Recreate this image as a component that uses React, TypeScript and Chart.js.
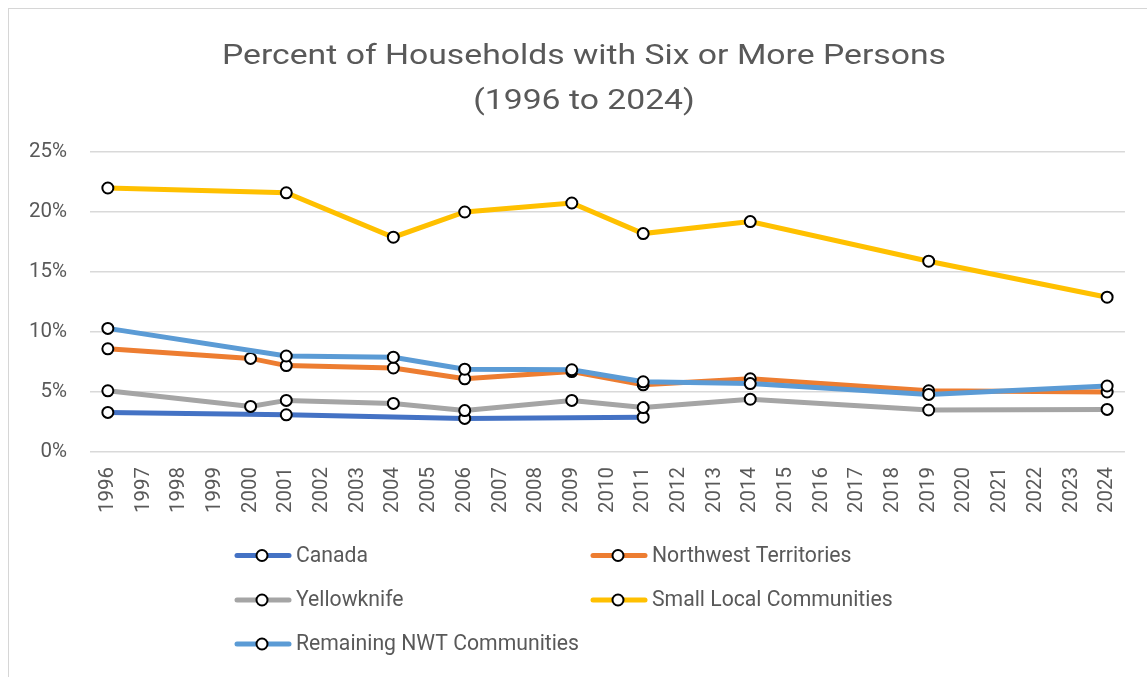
import React, { useEffect, useRef } from "react";
import { Chart, registerables } from "chart.js";

Chart.register(...registerables);

const years: number[] = [];
for (let y = 1996; y <= 2024; y++) years.push(y);
const yearLabels = years.map((y) => String(y));

const titleLines = ["Percent of Households with Six or More Persons", "(1996 to 2024)"];

const canadaYears = [1996, 2001, 2006, 2011];
const canadaValues = [3.3, 3.1, 2.8, 2.9];

const nwtYears = [1996, 2000, 2001, 2004, 2006, 2009, 2011, 2014, 2019, 2024];
const nwtValues = [8.6, 7.8, 7.2, 7.0, 6.1, 6.7, 5.6, 6.1, 5.1, 5.0];

const yellowknifeYears = [1996, 2000, 2001, 2004, 2006, 2009, 2011, 2014, 2019, 2024];
const yellowknifeValues = [5.1, 3.8, 4.3, 4.05, 3.45, 4.3, 3.7, 4.4, 3.5, 3.55];

const smallYears = [1996, 2001, 2004, 2006, 2009, 2011, 2014, 2019, 2024];
const smallValues = [22.0, 21.6, 17.9, 20.0, 20.75, 18.2, 19.2, 15.9, 12.9];

const remainingYears = [1996, 2001, 2004, 2006, 2009, 2011, 2014, 2019, 2024];
const remainingValues = [10.3, 8.0, 7.9, 6.9, 6.85, 5.85, 5.7, 4.8, 5.5];

const seriesNames = [
  "Canada",
  "Northwest Territories",
  "Yellowknife",
  "Small Local Communities",
  "Remaining NWT Communities",
];
const seriesColors = ["#4472C4", "#ED7D31", "#A5A5A5", "#FFC000", "#5B9BD5"];

const yTicks = [0, 5, 10, 15, 20, 25];

function toSeries(ys: number[], vals: number[]): (number | null)[] {
  return years.map((y) => {
    const i = ys.indexOf(y);
    return i >= 0 ? vals[i] : null;
  });
}

const FONT = "Roboto";
const TEXT_COLOR = "#595959";

export default function App() {
  const ref = useRef<HTMLCanvasElement | null>(null);

  useEffect(() => {
    if (!ref.current) return;
    const allSeries = [
      toSeries(canadaYears, canadaValues),
      toSeries(nwtYears, nwtValues),
      toSeries(yellowknifeYears, yellowknifeValues),
      toSeries(smallYears, smallValues),
      toSeries(remainingYears, remainingValues),
    ];

    const overlay = {
      id: "overlay",
      afterDraw(chart: any) {
        const ctx = chart.ctx as CanvasRenderingContext2D;
        ctx.save();
        // Title (slightly widened to match the narrow original face's span)
        ctx.fillStyle = TEXT_COLOR;
        ctx.font = `27px ${FONT}`;
        ctx.textAlign = "center";
        ctx.textBaseline = "alphabetic";
        const w = ctx.measureText(titleLines[0]).width;
        const sx = w > 0 ? 724 / w : 1;
        ctx.save();
        ctx.translate(575, 0);
        ctx.scale(sx, 1);
        ctx.fillText(titleLines[0], 0, 55);
        ctx.fillText(titleLines[1], 0, 100);
        ctx.restore();

        // Legend
        const cols = [226, 582];
        const rows = [546.5, 591, 635];
        ctx.font = `21.2px ${FONT}`;
        ctx.textAlign = "left";
        ctx.textBaseline = "middle";
        seriesNames.forEach((name, i) => {
          const x0 = cols[i % 2];
          const y = rows[Math.floor(i / 2)];
          ctx.strokeStyle = seriesColors[i];
          ctx.lineWidth = 5;
          ctx.lineCap = "round";
          ctx.beginPath();
          ctx.moveTo(x0 + 2, y);
          ctx.lineTo(x0 + 54, y);
          ctx.stroke();
          ctx.beginPath();
          ctx.arc(x0 + 27, y, 5.5, 0, Math.PI * 2);
          ctx.fillStyle = "#ffffff";
          ctx.fill();
          ctx.lineWidth = 2;
          ctx.strokeStyle = "#000000";
          ctx.stroke();
          ctx.fillStyle = TEXT_COLOR;
          ctx.fillText(name, x0 + 61, y + 1);
        });
        ctx.restore();
      },
    };

    const chart = new Chart(ref.current, {
      type: "line",
      data: {
        labels: yearLabels,
        datasets: seriesNames.map((name, i) => ({
          label: name,
          data: allSeries[i],
          borderColor: seriesColors[i],
          backgroundColor: seriesColors[i],
          borderWidth: 5,
          pointRadius: 5.5,
          pointBorderWidth: 2,
          pointBackgroundColor: "#ffffff",
          pointBorderColor: "#000000",
          spanGaps: true,
          tension: 0,
          order: seriesNames.length - i,
        })),
      },
      options: {
        responsive: false,
        animation: false,
        events: [],
        layout: { padding: { left: 0, right: 16, top: 143, bottom: 165 } },
        plugins: {
          legend: { display: false },
          title: { display: false },
          tooltip: { enabled: false },
        },
        scales: {
          x: {
            type: "category",
            offset: true,
            grid: { display: false, drawTicks: false },
            border: { display: false },
            ticks: {
              autoSkip: false,
              minRotation: 90,
              maxRotation: 90,
              padding: 15,
              color: TEXT_COLOR,
              font: { family: FONT, size: 20.5 },
            },
            afterFit(scale: any) {
              scale.height = 60;
            },
          },
          y: {
            min: 0,
            max: 25,
            afterBuildTicks(scale: any) {
              scale.ticks = yTicks.map((v) => ({ value: v }));
            },
            grid: { color: "#d9d9d9", lineWidth: 1.5, drawTicks: false },
            border: { display: false },
            ticks: {
              padding: 23,
              color: TEXT_COLOR,
              font: { family: FONT, size: 20.5 },
              callback: (v: any) => `${v}%`,
            },
            afterFit(scale: any) {
              scale.width = 81;
            },
          },
        },
      },
      plugins: [overlay],
    });
    return () => chart.destroy();
  }, []);

  return (
    <div style={{ position: "fixed", left: 0, top: 0, right: 0, bottom: 0, overflow: "hidden", background: "#fff" }}>
      <div
        style={{
          position: "absolute",
          left: 8,
          top: 8,
          width: 1200,
          height: 720,
          borderLeft: "1px solid #d6d6d6",
          borderTop: "1px solid #d6d6d6",
          background: "#fff",
        }}
      >
        <canvas ref={ref} width={1138} height={668} style={{ display: "block", width: 1138, height: 668 }} />
      </div>
    </div>
  );
}
